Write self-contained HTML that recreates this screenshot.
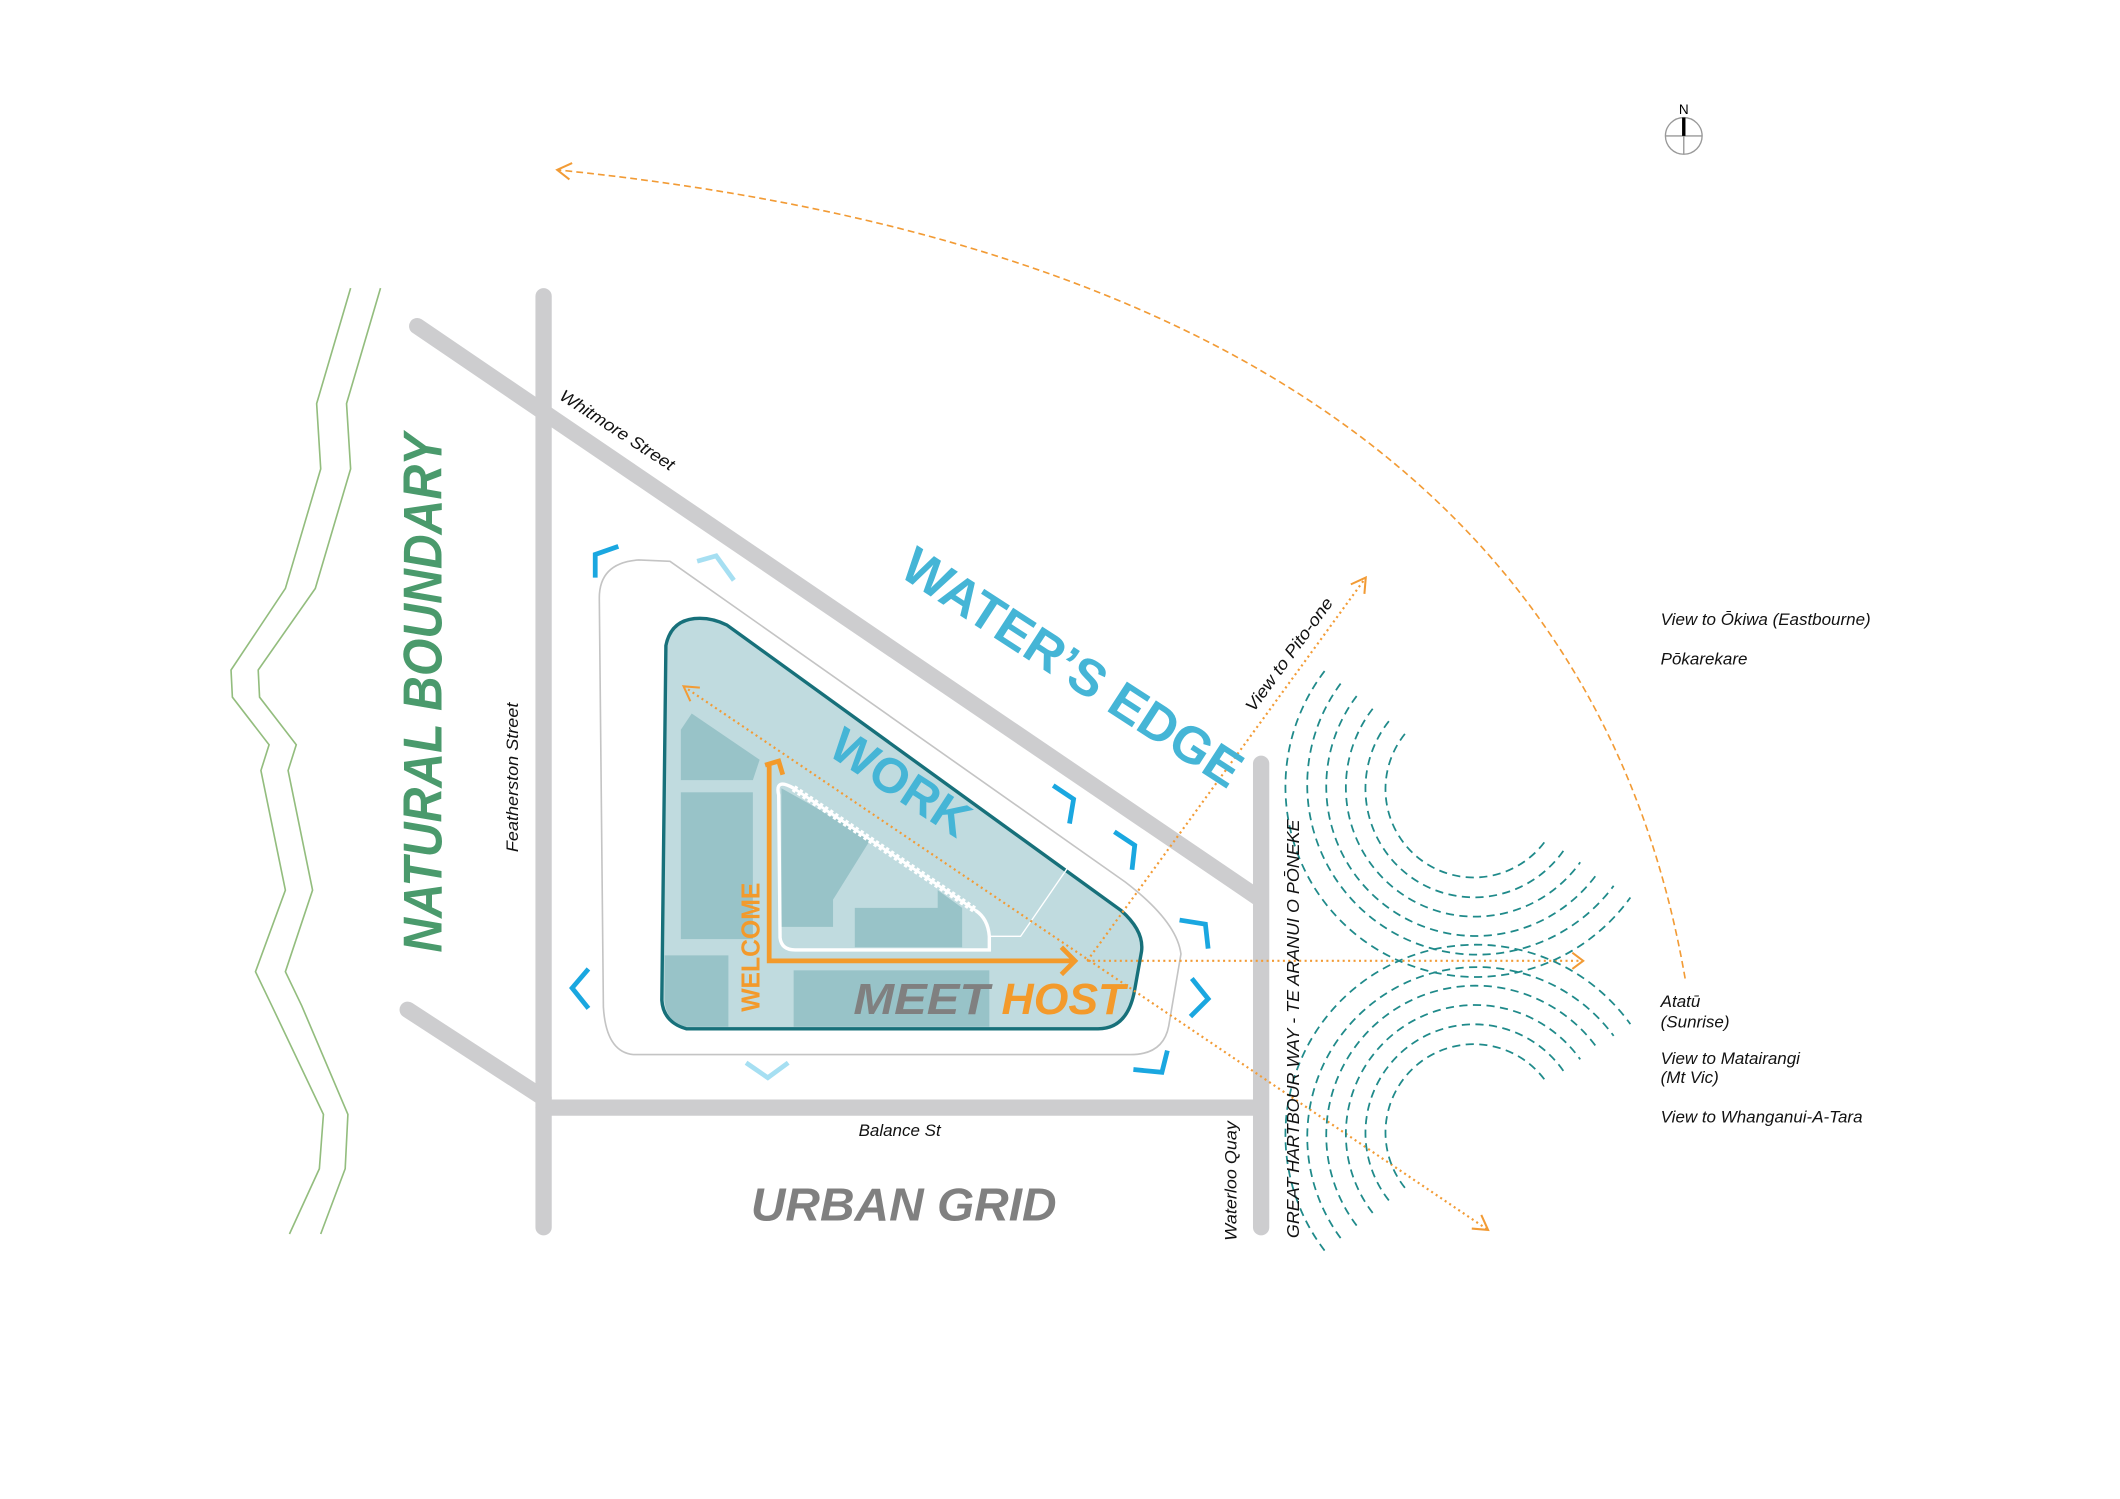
<!DOCTYPE html>
<html><head><meta charset="utf-8"><style>
html,body{margin:0;padding:0;background:#fff;}
svg{display:block;}
text{font-family:"Liberation Sans",sans-serif;}
</style></head><body>
<svg width="2120" height="1499" viewBox="0 0 1560 1103" preserveAspectRatio="none" xmlns="http://www.w3.org/2000/svg">
<rect width="1560" height="1103" fill="#fff"/>
<g fill="none" stroke="#93bd7e" stroke-width="1.2">
<polyline points="258,212 233,297 236,345 210,433 170,493 171,513 198,548 192,567 210,655 188,715 200,740 238,820 235,860 213,908"/>
<polyline points="280,212 255,297 258,345 232,433 190,493 191,513 218,548 212,567 230,655 210,715 222,740 256,820 254,860 236,908"/>
</g>
<g stroke="#cdcdcf" stroke-width="12" stroke-linecap="round" fill="none">
<line x1="307" y1="240" x2="925" y2="660"/>
<line x1="300" y1="743" x2="400" y2="808"/>
<line x1="400" y1="218" x2="400" y2="903"/>
<line x1="400" y1="815" x2="925" y2="815"/>
<line x1="928" y1="562" x2="928" y2="903"/>
</g>
<path d="M441,440 Q441,414 470,412 L493,413 L828,649 Q866,678 869,702 L860,755 Q856,776 832,776 L466,776 Q446,774 444,741 Z" fill="none" stroke="#c4c4c4" stroke-width="1.2"/>
<path d="M490,475 Q494,455 515,455 Q525,455 535,460 L825,670 Q842,685 840,700 L835,728 Q830,757 808,757 L505,757 Q488,752 487,736 Z" fill="#c0dbdf" stroke="#17707a" stroke-width="2.5"/>
<g fill="#98c3c8">
<polygon points="501,537 509,525 559,559 554,574 501,574"/>
<rect x="501" y="583" width="53" height="108"/>
<path d="M489,703 L536,703 L536,755.5 L505,755.5 Q490,752 489,736 Z"/>
<rect x="584" y="714" width="144" height="41.5"/>
<polygon points="575,580 641,617 613,662 613,682 575,682"/>
<polygon points="629,668 690,668 690,655 708,668 708,697 629,697"/>
</g>
<polyline points="786,638 751,689 728,689" fill="none" stroke="#fff" stroke-width="1"/>
<path d="M584,580 Q570,572 573,585 L574,690 Q575,699 585,699 L728,699 L728,689 Q727,676 718,670" fill="none" stroke="#fff" stroke-width="2.5"/>
<line x1="584" y1="580" x2="718" y2="670" stroke="#fff" stroke-width="5" stroke-dasharray="2.5 2"/>
<line x1="584" y1="580" x2="718" y2="670" stroke="#fff" stroke-width="2"/>
<g fill="none" stroke="#f29b35" stroke-width="1.6" stroke-dasharray="1.5 2.5">
<line x1="503" y1="505" x2="1095" y2="905"/>
<line x1="800" y1="707" x2="1165" y2="707"/>
<line x1="800" y1="707" x2="1005" y2="425"/>
</g>
<path d="M1240,720 Q1150,200 410,125" fill="none" stroke="#f29b35" stroke-width="1.2" stroke-dasharray="5 3"/>
<g fill="none" stroke="#f29b35" stroke-width="1.5">
<polyline points="994,430 1005,425 1004,437"/>
<polyline points="1157,701 1165,707 1157,713"/>
<polyline points="1083,904 1095,905 1090,894"/>
<polyline points="508,516 503,505 515,506"/>
<polyline points="421,120 410,125 419,132"/>
</g>
<g fill="none" stroke="#f39a2b" stroke-width="3.5">
<polyline points="789,707 566,707 566,562"/>
<polyline points="563,563 573,560 576,570"/>
<polyline points="781,697 791,707 781,717"/>
</g>
<g fill="none" stroke="#1f8a8a" stroke-width="1.3" stroke-dasharray="6 4">
<path d="M1033.8,540 A65,65 0 1 0 1138.2,617.3"/>
<path d="M1022,530.7 A80,80 0 1 0 1150.5,625.9"/>
<path d="M1010.1,521.5 A95,95 0 1 0 1162.8,634.5"/>
<path d="M998.3,512.2 A110,110 0 1 0 1175.1,643.1"/>
<path d="M986.5,503 A125,125 0 1 0 1187.4,651.8"/>
<path d="M974.7,493.8 A140,140 0 1 0 1199.7,660.4"/>
<path d="M1033.8,874 A65,65 0 1 1 1138.2,796.7"/>
<path d="M1022,883.3 A80,80 0 1 1 1150.5,788.1"/>
<path d="M1010.1,892.5 A95,95 0 1 1 1162.8,779.5"/>
<path d="M998.3,901.8 A110,110 0 1 1 1175.1,770.9"/>
<path d="M986.5,911 A125,125 0 1 1 1187.4,762.2"/>
<path d="M974.7,920.2 A140,140 0 1 1 1199.7,753.6"/>
</g>
<g fill="none" stroke="#1aa7e0" stroke-width="3.5">
<polyline points="455,402 438,408 438,425"/>
<polyline points="433,713 421,727 433,742"/>
<polyline points="775,578 790,588 787,606"/>
<polyline points="820,612 835,622 833,640"/>
<polyline points="868,677 887,680 889,698"/>
<polyline points="877,720 889,735 876,748"/>
<polyline points="834,787 855,789 859,773"/>
</g>
<g fill="none" stroke="#a6dff2" stroke-width="3.5">
<polyline points="513,413 527,409 540,427"/>
<polyline points="549,782 565,793 580,782"/>
</g>
<circle cx="1239" cy="100" r="13.5" fill="none" stroke="#999" stroke-width="1"/>
<line x1="1225.5" y1="100" x2="1252.5" y2="100" stroke="#999" stroke-width="1"/>
<line x1="1239" y1="100" x2="1239" y2="113.5" stroke="#999" stroke-width="1"/>
<line x1="1239" y1="86.5" x2="1239" y2="100" stroke="#000" stroke-width="2.5"/>
<text x="1239" y="84" font-size="10" text-anchor="middle" fill="#000">N</text>
<text transform="translate(325,510) rotate(-90)" text-anchor="middle" font-size="40" font-weight="bold" font-style="italic" fill="#4a9a6c" textLength="382" lengthAdjust="spacingAndGlyphs">NATURAL BOUNDARY</text>
<text transform="translate(782,502) rotate(33)" text-anchor="middle" font-size="38" font-weight="bold" fill="#45b5d6" textLength="290" lengthAdjust="spacingAndGlyphs">WATER’S EDGE</text>
<text transform="translate(656,586) rotate(33)" text-anchor="middle" font-size="36" font-weight="bold" fill="#45b5d6" textLength="115" lengthAdjust="spacingAndGlyphs">WORK</text>
<text transform="translate(559,697) rotate(-90)" text-anchor="middle" font-size="19" font-weight="bold" fill="#f39a2b" textLength="95" lengthAdjust="spacingAndGlyphs">WELCOME</text>
<text x="628" y="746" font-size="32" font-weight="bold" font-style="italic" fill="#808080" textLength="100" lengthAdjust="spacingAndGlyphs">MEET</text>
<text x="737" y="746" font-size="32" font-weight="bold" font-style="italic" fill="#f39a2b" textLength="91" lengthAdjust="spacingAndGlyphs">HOST</text>
<text x="665" y="898" text-anchor="middle" font-size="34" font-weight="bold" font-style="italic" fill="#808080" textLength="225" lengthAdjust="spacingAndGlyphs">URBAN GRID</text>
<g font-size="12.5" font-style="italic" fill="#111">
<text transform="translate(452,320) rotate(33)" text-anchor="middle" textLength="98" lengthAdjust="spacingAndGlyphs">Whitmore Street</text>
<text transform="translate(381,572) rotate(-90)" text-anchor="middle" textLength="110" lengthAdjust="spacingAndGlyphs">Featherston Street</text>
<text x="662" y="836" text-anchor="middle">Balance St</text>
<text transform="translate(910,869) rotate(-90)" text-anchor="middle" textLength="88" lengthAdjust="spacingAndGlyphs">Waterloo Quay</text>
<text transform="translate(956,757) rotate(-90)" text-anchor="middle" font-size="13" textLength="308" lengthAdjust="spacingAndGlyphs">GREAT HARTBOUR WAY - TE ARANUI O PŌNEKE</text>
<text transform="translate(952,484) rotate(-54)" text-anchor="middle" textLength="100" lengthAdjust="spacingAndGlyphs">View to Pito-one</text>
<text x="1222" y="460">View to Ōkiwa (Eastbourne)</text>
<text x="1222" y="489">Pōkarekare</text>
<text x="1222" y="741">Atatū</text>
<text x="1222" y="756">(Sunrise)</text>
<text x="1222" y="783">View to Matairangi</text>
<text x="1222" y="797">(Mt Vic)</text>
<text x="1222" y="826">View to Whanganui-A-Tara</text>
</g>
</svg>
</body></html>
